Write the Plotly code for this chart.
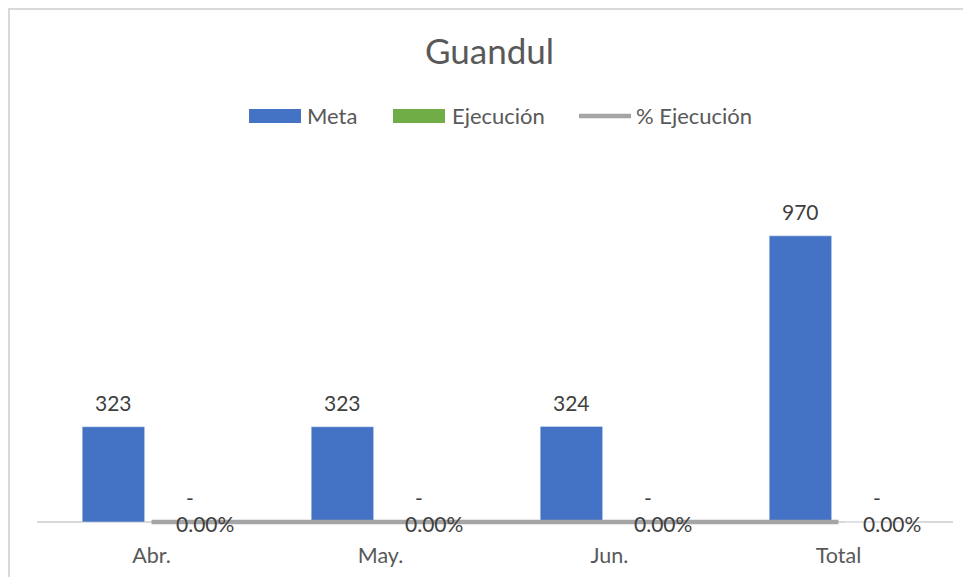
import plotly.graph_objects as go

categories = ["Abr.", "May.", "Jun.", "Total"]
meta = [323, 323, 324, 970]
ejecucion = [0, 0, 0, 0]
pct_ejecucion = [0.0, 0.0, 0.0, 0.0]

meta_labels = [f"{v:,.0f}" for v in meta]
ejec_labels = ["-" if v == 0 else f"{v:,.0f}" for v in ejecucion]
pct_labels = [f"{v:.2%}" for v in pct_ejecucion]

# page has an 8px body margin; figure origin sits at screen (8, 8)
OFF = 8
W, H = 963, 569
L, R, T, B = 29, 18, 160, 49
PW, PH = W - L - R, H - T - B
ZPAD = 6                      # pixels between zero line and plot bottom
YMAX = 1200
ymin = -ZPAD * YMAX / (PH - ZPAD)
y2min = -ZPAD / (PH - ZPAD)

def px(sx):
    return (sx - OFF - L) / PW

def py(sy):
    return (H - B - (sy - OFF)) / PH

FONT = "Lato"
TXT = "#595959"
LBL = "#404040"
FS = 21

BARGAP, GROUPGAP = 0.335, 0.18
slot = PW / len(categories) * (1 - BARGAP) / 2   # width of each bar slot in px

fig = go.Figure()
fig.add_trace(go.Bar(x=categories, y=meta, name="Meta", marker_color="#4472C4"))
fig.add_trace(go.Bar(x=categories, y=ejecucion, name="Ejecución", marker_color="#70AD47"))
fig.add_trace(go.Scatter(x=categories, y=pct_ejecucion, name="% Ejecución", yaxis="y2",
                         mode="lines", line=dict(color="#A5A5A5", width=4.5)))

ann = []
for c, v, t in zip(categories, meta, meta_labels):
    ann.append(dict(x=c, y=v, xref="x", yref="y", text=t, showarrow=False, xshift=-slot / 2,
                    yshift=24, xanchor="center", yanchor="middle",
                    font=dict(family=FONT, size=FS, color=LBL)))
for c, v, t in zip(categories, ejecucion, ejec_labels):
    ann.append(dict(x=c, y=v, xref="x", yref="y", text=t, showarrow=False, xshift=slot / 2,
                    yshift=25, xanchor="center", yanchor="middle",
                    font=dict(family=FONT, size=FS, color=LBL)))
for c, v, t in zip(categories, pct_ejecucion, pct_labels):
    ann.append(dict(x=c, y=v, xref="x", yref="y2", text=t, showarrow=False, xshift=22,
                    yshift=-1, xanchor="left", yanchor="middle",
                    font=dict(family=FONT, size=FS, color=LBL)))

shapes = []
# chart border (top and left edges visible)
shapes.append(dict(type="line", xref="paper", yref="paper", x0=px(8), x1=px(990), y0=py(9), y1=py(9),
                   line=dict(color="#D9D9D9", width=2)))
shapes.append(dict(type="line", xref="paper", yref="paper", x0=px(9), x1=px(9), y0=py(8), y1=py(590),
                   line=dict(color="#D9D9D9", width=2)))
# custom legend
ly = 116
shapes.append(dict(type="rect", xref="paper", yref="paper", x0=px(249), x1=px(301), y0=py(123), y1=py(109),
                   fillcolor="#4472C4", line=dict(width=0)))
shapes.append(dict(type="rect", xref="paper", yref="paper", x0=px(393), x1=px(445), y0=py(123), y1=py(109),
                   fillcolor="#70AD47", line=dict(width=0)))
shapes.append(dict(type="line", xref="paper", yref="paper", x0=px(579), x1=px(631), y0=py(ly), y1=py(ly),
                   line=dict(color="#A5A5A5", width=4.5)))
for x, t in [(305, "Meta"), (450, "Ejecución"), (634, "% Ejecución")]:
    ann.append(dict(xref="paper", yref="paper", x=px(x), y=py(ly - 1), text=t, showarrow=False,
                    xanchor="left", yanchor="middle", font=dict(family=FONT, size=22, color=TXT)))

fig.update_layout(
    width=W, height=H,
    margin=dict(l=L, r=R, t=T, b=B),
    paper_bgcolor="white", plot_bgcolor="white",
    title=dict(text="Guandul", x=px(495), xanchor="center", y=1 - (52 - OFF) / H, yanchor="middle",
               font=dict(family=FONT, size=35, color=TXT)),
    barmode="group", bargap=BARGAP, bargroupgap=GROUPGAP,
    showlegend=False,
    xaxis=dict(showline=False, showgrid=False, ticks="", zeroline=False, automargin=False,
               tickfont=dict(family=FONT, size=21.5, color=TXT), ticklabelstandoff=12),
    yaxis=dict(range=[ymin, YMAX], showticklabels=False, showgrid=False, showline=False, ticks="",
               zeroline=True, zerolinecolor="#D9D9D9", zerolinewidth=1.5, automargin=False),
    yaxis2=dict(range=[y2min, 1], overlaying="y", visible=False, showgrid=False, zeroline=False),
    shapes=shapes, annotations=ann,
)

fig.write_html("out.html")
